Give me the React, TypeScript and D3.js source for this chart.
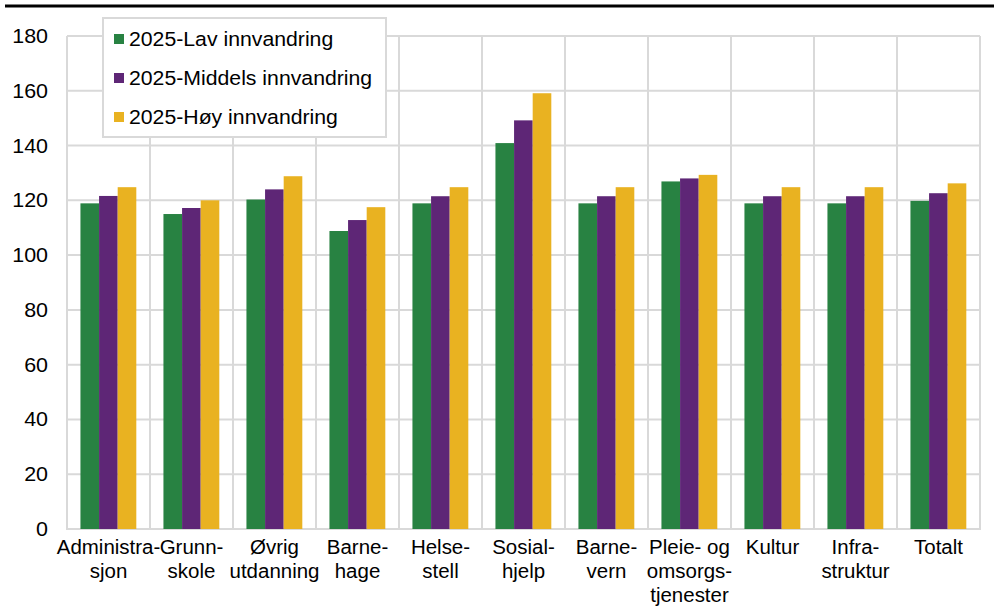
import React from "react";
import * as d3 from "d3";

const categories = [
  ["Administra-", "sjon"],
  ["Grunn-", "skole"],
  ["Øvrig", "utdanning"],
  ["Barne-", "hage"],
  ["Helse-", "stell"],
  ["Sosial-", "hjelp"],
  ["Barne-", "vern"],
  ["Pleie- og", "omsorgs-", "tjenester"],
  ["Kultur"],
  ["Infra-", "struktur"],
  ["Totalt"],
];
const seriesNames = ["2025-Lav innvandring", "2025-Middels innvandring", "2025-Høy innvandring"];
const seriesColors = ["#288242", "#5e2676", "#e9b221"];
const lav = [118.9, 115, 120.3, 108.8, 118.9, 140.9, 118.9, 126.9, 118.9, 118.9, 119.8];
const middels = [121.6, 117.2, 124, 112.8, 121.5, 149.2, 121.5, 128, 121.5, 121.5, 122.6];
const hoy = [124.8, 120, 128.8, 117.5, 124.8, 159.1, 124.8, 129.3, 124.8, 124.8, 126.2];
const yTicks = [0, 20, 40, 60, 80, 100, 120, 140, 160, 180];

const W = 994;
const H = 614;
const left = 67;
const right = 980;
const top = 36;
const bottom = 529;
const FONT = "'Liberation Sans', Arial, sans-serif";
const GRID = "#d9d9d9";
const FS = 19.5;

export default function App() {
  const series = [lav, middels, hoy];
  const idx = categories.map((_, i) => String(i));
  const x = d3.scaleBand<string>().domain(idx).range([left, right]).paddingInner(0).paddingOuter(0);
  const bw = x.bandwidth();
  const x1 = d3
    .scaleBand<string>()
    .domain(seriesNames)
    .range([bw * 0.162, bw * 0.835])
    .padding(0);
  const y = d3.scaleLinear().domain([0, 180]).range([bottom, top]);

  return (
    <svg
      width={W}
      height={H}
      style={{ position: "absolute", left: 0, top: 0, background: "#fff" }}
      fontFamily={FONT}
    >
      <rect x={0} y={0} width={W} height={H} fill="#fff" />
      <line x1={5} x2={W} y1={6} y2={6} stroke="#000" strokeWidth={3} />
      {yTicks.map((t) => (
        <line key={"h" + t} x1={left} x2={right} y1={y(t)} y2={y(t)} stroke={GRID} strokeWidth={2} />
      ))}
      {idx.concat(["end"]).map((k, i) => {
        const xx = k === "end" ? right : (x(k) as number);
        return <line key={"v" + i} x1={xx} x2={xx} y1={top} y2={bottom + 1} stroke={GRID} strokeWidth={2} />;
      })}
      {idx.map((k, i) => (
        <g key={"g" + k} transform={`translate(${x(k)},0)`}>
          {series.map((s, j) => (
            <rect
              key={j}
              x={x1(seriesNames[j])}
              y={y(s[i])}
              width={x1.bandwidth()}
              height={y(0) - y(s[i])}
              fill={seriesColors[j]}
            />
          ))}
        </g>
      ))}
      {yTicks.map((t) => (
        <g key={"yl" + t} transform={`translate(48,${y(t)}) scale(1.1,1)`}>
          <text x={0} y={0} dy="0.36em" textAnchor="end" fontSize={FS} fill="#000">
            {t}
          </text>
        </g>
      ))}
      {categories.map((lines, i) => (
        <g key={"xl" + i} transform={`translate(${(x(String(i)) as number) + bw / 2},554) scale(1.05,1)`}>
          <text x={0} y={0} textAnchor="middle" fontSize={FS} fill="#000">
            {lines.map((ln, j) => (
              <tspan key={j} x={0} dy={j === 0 ? 0 : 24}>
                {ln}
              </tspan>
            ))}
          </text>
        </g>
      ))}
      <rect x={103} y={18} width={283} height={119} fill="#fff" stroke={GRID} strokeWidth={2} />
      {seriesNames.map((n, j) => (
        <g key={"lg" + j} transform={`translate(114,${39 + j * 39})`}>
          <rect x={0} y={-5} width={10} height={10} fill={seriesColors[j]} />
          <g transform="translate(15,0) scale(1.09,1)">
            <text x={0} y={0} dy="0.36em" fontSize={FS} fill="#000">
              {n}
            </text>
          </g>
        </g>
      ))}
    </svg>
  );
}
